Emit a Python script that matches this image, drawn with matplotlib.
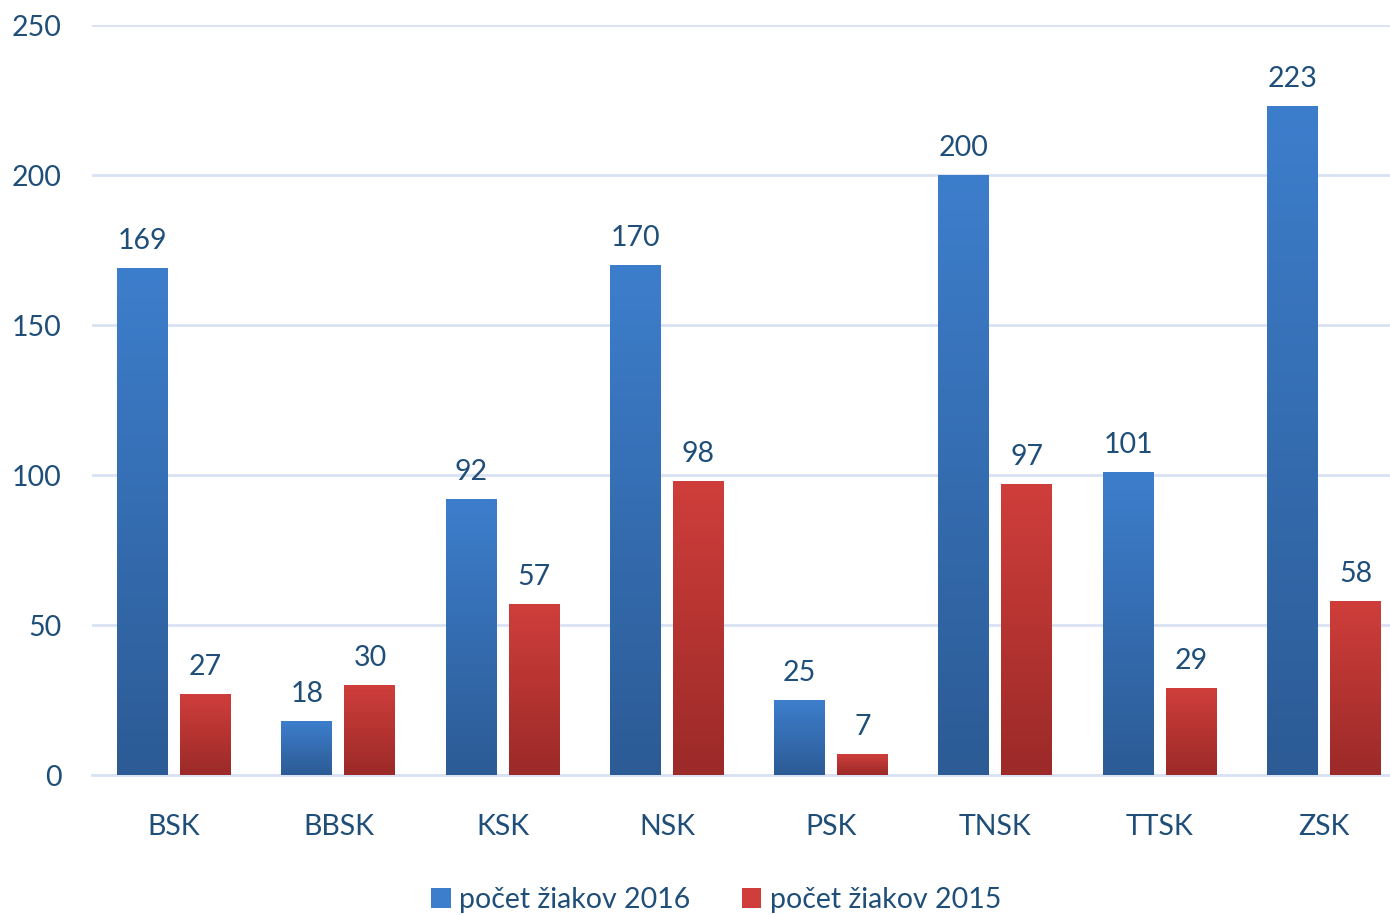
import matplotlib
matplotlib.use("Agg")
import matplotlib.pyplot as plt
import numpy as np
from matplotlib.colors import LinearSegmentedColormap
from matplotlib.patches import Patch

categories = ["BSK", "BBSK", "KSK", "NSK", "PSK", "TNSK", "TTSK", "ZSK"]
values_2016 = [169, 18, 92, 170, 25, 200, 101, 223]
values_2015 = [27, 30, 57, 98, 7, 97, 29, 58]
series_names = ["počet žiakov 2016", "počet žiakov 2015"]
yticks = [0, 50, 100, 150, 200, 250]

text_color = "#1F4E79"
grid_color = "#D9E2F3"
blue_top, blue_bot = "#3D7ECC", "#2C5B95"
red_top, red_bot = "#CF3E3B", "#9B2A28"

plt.rcParams["font.family"] = ["Lato", "DejaVu Sans"]
fs = 20.5

fig = plt.figure(figsize=(13.9, 9.15), dpi=100)
ax = fig.add_axes([92/1390, 140/915, 1314/1390, 750/915])

x = np.arange(len(categories))
w = 0.31
off = 0.192

def grad_bars(xs, vals, top, bot):
    cmap = LinearSegmentedColormap.from_list("g", [bot, top])
    bars = ax.bar(xs, vals, width=w, color="none", edgecolor="none", zorder=3)
    grad = np.linspace(0, 1, 256).reshape(-1, 1)
    for b in bars:
        x0, y0 = b.get_x(), b.get_y()
        bw, bh = b.get_width(), b.get_height()
        ax.imshow(grad, cmap=cmap, origin="lower", aspect="auto",
                  extent=[x0, x0 + bw, y0, y0 + bh], zorder=3,
                  interpolation="bilinear")
    return bars

b1 = grad_bars(x - off, values_2016, blue_top, blue_bot)
b2 = grad_bars(x + off, values_2015, red_top, red_bot)

for bars, vals in ((b1, values_2016), (b2, values_2015)):
    for b, v in zip(bars, vals):
        ax.annotate(str(v), (b.get_x() + b.get_width()/2, v),
                    xytext=(0, 10), textcoords="offset points",
                    ha="center", va="bottom", fontsize=fs, color=text_color)

ax.set_xlim(-0.5, len(categories) - 0.5)
ax.set_ylim(0, 250)
ax.set_yticks(yticks)
ax.set_xticks(x)
ax.set_xticklabels(categories)
ax.tick_params(axis="both", length=0, labelsize=fs, labelcolor=text_color)
ax.tick_params(axis="y", pad=22)
ax.tick_params(axis="x", pad=28)
ax.grid(axis="y", color=grid_color, linewidth=2, zorder=0)
ax.set_axisbelow(True)
for s in ["top", "right", "left"]:
    ax.spines[s].set_visible(False)
ax.spines["bottom"].set_color(grid_color)
ax.spines["bottom"].set_linewidth(2)

handles = [Patch(facecolor=blue_top, edgecolor="none"),
           Patch(facecolor=red_top, edgecolor="none")]
leg = fig.legend(handles, series_names, loc="center", bbox_to_anchor=(716/1390, 1 - 900/915),
                 ncol=2, frameon=False, fontsize=fs, handlelength=0.7, handleheight=0.7,
                 handletextpad=0.3, columnspacing=1.8, labelcolor=text_color)

fig.savefig("out.png", dpi=100)
